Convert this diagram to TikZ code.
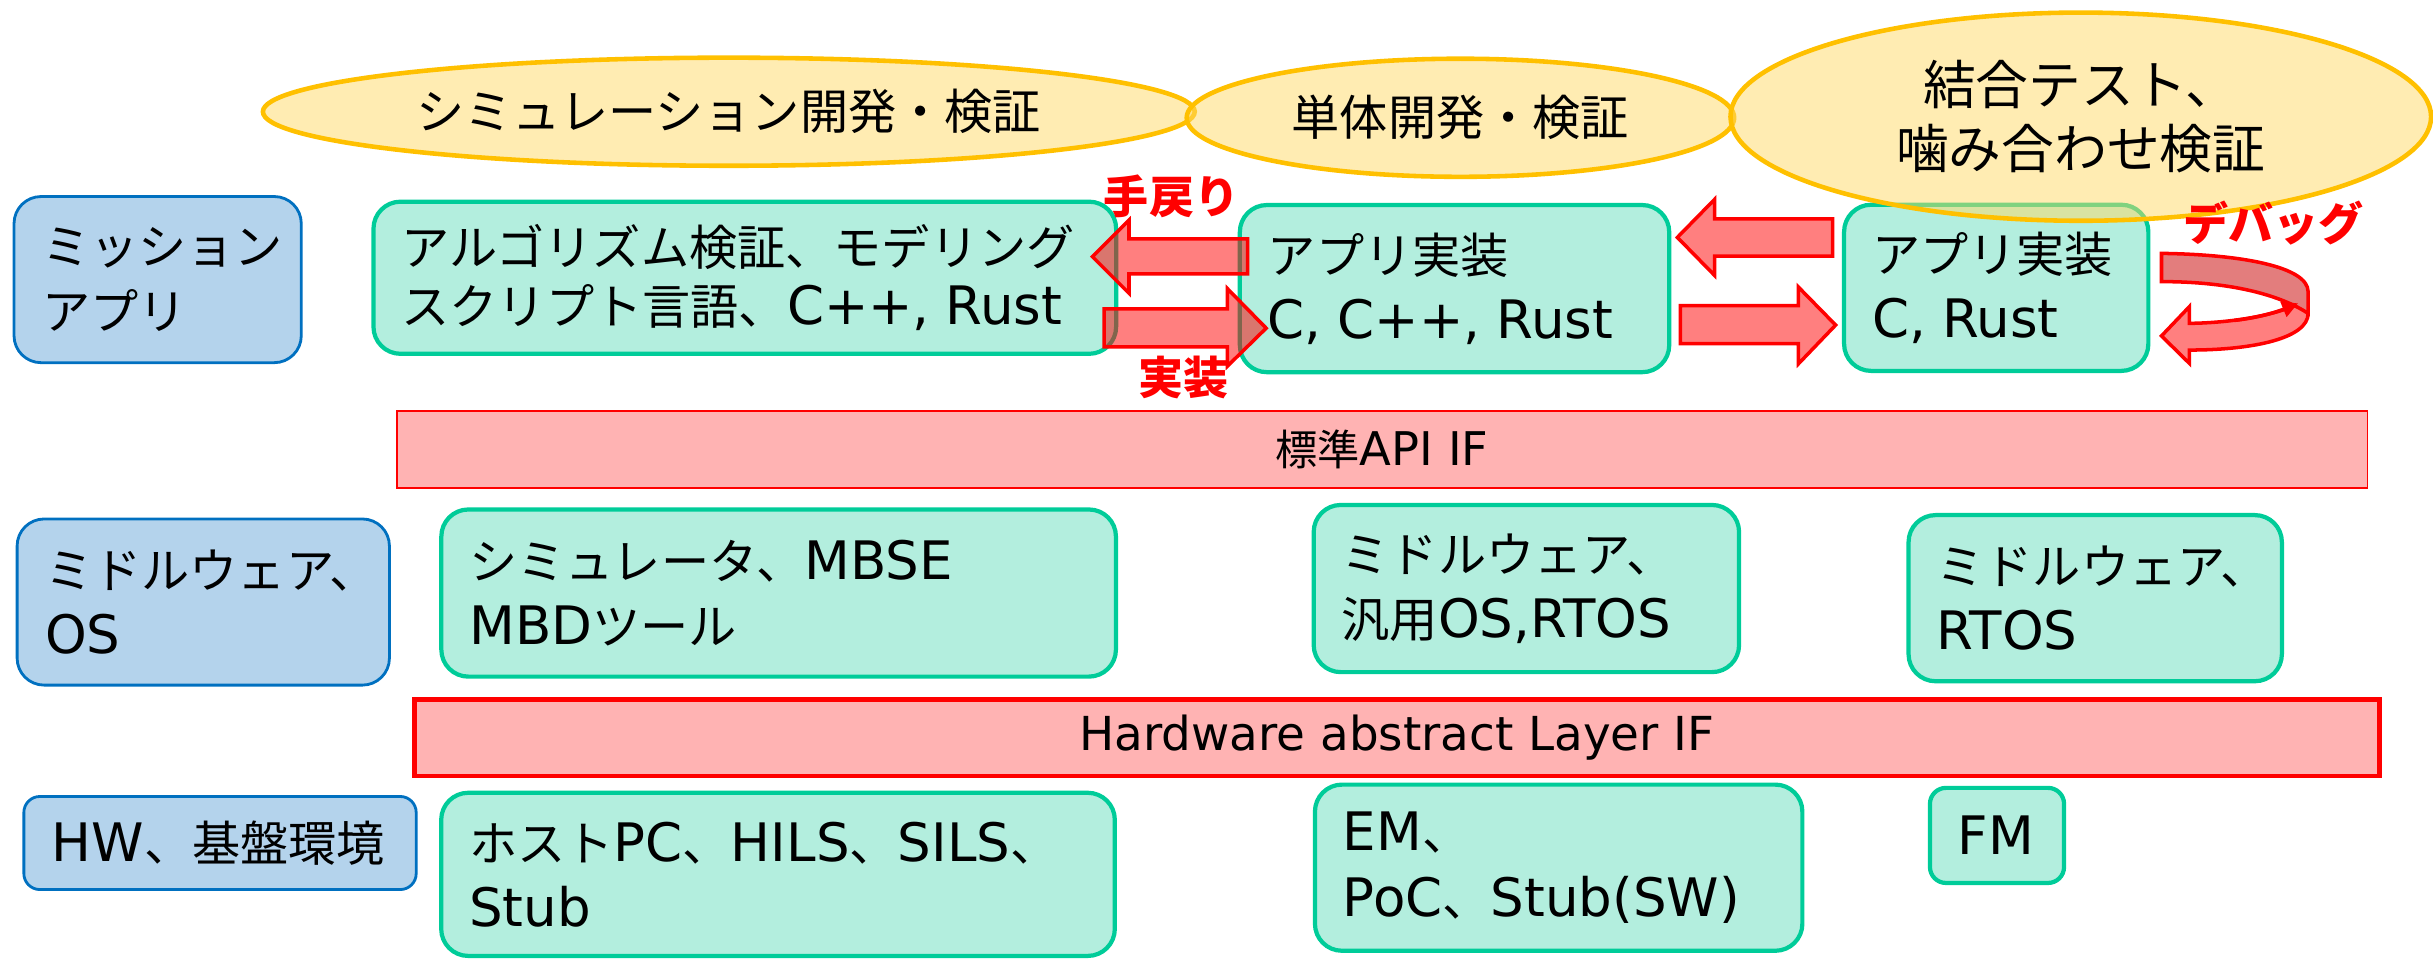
\documentclass[tikz,border=0pt]{standalone}
\usepackage{fontspec}
\setmainfont{Noto Sans CJK JP}
\newfontfamily\lat{DejaVu Sans}[Scale=1.1]
\usetikzlibrary{shapes.geometric,arrows.meta}

\definecolor{ellfill}{RGB}{255,217,102}
\definecolor{elldraw}{RGB}{255,192,0}
\definecolor{sidefill}{RGB}{180,211,236}
\definecolor{sidedraw}{RGB}{0,112,192}
\definecolor{workfill}{RGB}{179,238,222}
\definecolor{workdraw}{RGB}{0,204,153}
\definecolor{iffill}{RGB}{255,179,179}
\definecolor{facedark}{RGB}{227,125,125}

\begin{document}
\begin{tikzpicture}[x=0.0155cm, y=-0.0155cm, font=\fontsize{13.7}{18.5}\selectfont,
		side/.style = {draw=sidedraw, line width=0.8pt, fill=sidefill, rounded corners=0.27cm, inner xsep=0.28cm, inner ysep=0pt, align=left},
		work/.style = {draw=workdraw, line width=1.2pt, fill=workfill, rounded corners=0.27cm, inner xsep=0.28cm, inner ysep=0pt, align=left},
		phase/.style = {ellipse, draw=elldraw, line width=1.3pt, fill=ellfill, fill opacity=0.5, text opacity=1, inner sep=0pt, align=center},
		iface/.style = {draw=red, fill=iffill, inner sep=0pt},
		flow/.style = {draw=red, line width=1pt, fill=red, fill opacity=0.5},
		note/.style = {text=red, font=\fontsize{12.8}{15}\selectfont\bfseries, inner sep=0pt}]
		\useasboundingbox (0,0) rectangle (1568,618);
		% layer labels
		\node[side, minimum width=2.87cm, minimum height=1.66cm, text width=2.31cm] (mission) at (101.6,180.2) {ミッション\\アプリ};
		\node[side, minimum width=3.72cm, minimum height=1.66cm, text width=3.16cm] (mwos) at (131,388) {ミドルウェア、\\{\lat OS}};
		\node[side, rounded corners=0.16cm, minimum width=3.92cm, minimum height=0.93cm, text width=3.36cm] (hwenv) at (141.8,543.3) {{\lat HW}、基盤環境};
		% application
		\node[work, font=\fontsize{13.7}{16.8}\selectfont, minimum width=7.42cm, minimum height=1.52cm, text width=6.86cm] (algo) at (480,179) {アルゴリズム検証、モデリング\\スクリプト言語、{\lat C++, Rust}};
		\node[work, minimum width=4.29cm, minimum height=1.67cm, text width=3.73cm] (appB) at (937.4,186) {アプリ実装\\{\lat C, C++, Rust}};
		\node[work, minimum width=3.04cm, minimum height=1.66cm, text width=2.48cm] (appC) at (1286.5,185.5) {アプリ実装\\{\lat C, Rust}};
		% interfaces
		\node[iface, line width=0.5pt, minimum width=19.69cm, minimum height=0.775cm, font=\fontsize{12}{14}\selectfont] (api) at (890.7,289.7) {標準{\lat API IF}};
		\node[iface, line width=1.4pt, minimum width=19.64cm, minimum height=0.76cm, font=\fontsize{12.1}{14}\selectfont] (hal) at (900.3,475.6) {\lat Hardware abstract Layer IF};
		% middleware
		\node[work, minimum width=6.74cm, minimum height=1.67cm, text width=6.18cm] (simtool) at (501.8,382.2) {シミュレータ、{\lat MBSE}\\{\lat MBD}ツール};
		\node[work, minimum width=4.25cm, minimum height=1.67cm, text width=3.69cm] (mwE) at (983.7,379.3) {ミドルウェア、\\汎用{\lat OS,RTOS}};
		\node[work, minimum width=3.73cm, minimum height=1.66cm, text width=3.17cm] (mwF) at (1350.3,385.5) {ミドルウェア、\\{\lat RTOS}};
		% hardware
		\node[work, minimum width=6.73cm, minimum height=1.63cm, text width=6.17cm] (host) at (501.4,563.5) {ホスト{\lat PC}、{\lat HILS}、{\lat SILS}、\\{\lat Stub}};
		\node[work, minimum width=4.87cm, minimum height=1.66cm, text width=4.31cm] (emH) at (1004.5,559.2) {{\lat EM}、\\{\lat PoC}、{\lat Stub(SW)}};
		\node[work, rounded corners=0.16cm, minimum width=1.34cm, minimum height=0.95cm, text width=0.78cm] (fm) at (1287,538.4) {\lat FM};
		% phases
		\node[phase, minimum width=9.31cm, minimum height=1.08cm] (simdev) at (469.7,72) {シミュレーション開発・検証};
		\node[phase, minimum width=5.47cm, minimum height=1.18cm] (unitdev) at (941.2,75.9) {単体開発・検証};
		\node[phase, minimum width=7.0cm, minimum height=2.08cm, font=\fontsize{15}{18.2}\selectfont] (integ) at (1341,75.2) {結合テスト、\\噛み合わせ検証};
		% block arrows
		\draw[flow] (804,154) -- (727.6,154) -- (727.6,141.8) -- (704,165.4) -- (727.6,189) -- (727.6,176.5) -- (804,176.5) -- cycle;
		\draw[flow] (711.5,199) -- (791,199) -- (791,186) -- (816,211.5) -- (791,236) -- (791,223.5) -- (711.5,223.5) -- cycle;
		\draw[flow] (1181,141) -- (1105,141) -- (1105,128.5) -- (1081,153) -- (1105,177.5) -- (1105,165) -- (1181,165) -- cycle;
		\draw[flow] (1083,197) -- (1159,197) -- (1159,185) -- (1183,209.5) -- (1159,234.5) -- (1159,221.5) -- (1083,221.5) -- cycle;
		\draw[flow] (1487.5,190) -- (1487.5,202) .. controls (1487.5,218) and (1452,225.6) .. (1411,225.6) -- (1411,234.2) -- (1393,216.5) -- (1411,197.6) -- (1411,208.4) .. controls (1440,208) and (1466,203) .. (1481,196) -- cycle;
		\draw[red, line width=1pt, fill=facedark] (1393,163.3) .. controls (1445,164) and (1487.5,172) .. (1487.5,188) -- (1487.5,202) .. controls (1474,193) and (1445,181.5) .. (1393,181.5) -- cycle;
		\draw[red, line width=1pt, -{Triangle[length=4.5pt, width=4.5pt]}] (1440,206.5) .. controls (1458,204.5) and (1470,200) .. (1481,195.5);
		% arrow labels
		\node[note] (rework) at (755,126.5) {手戻り};
		\node[note] (impl) at (763,243) {実装};
		\node[note] (debug) at (1465,144) {デバッグ};
	\end{tikzpicture}
\end{document}
